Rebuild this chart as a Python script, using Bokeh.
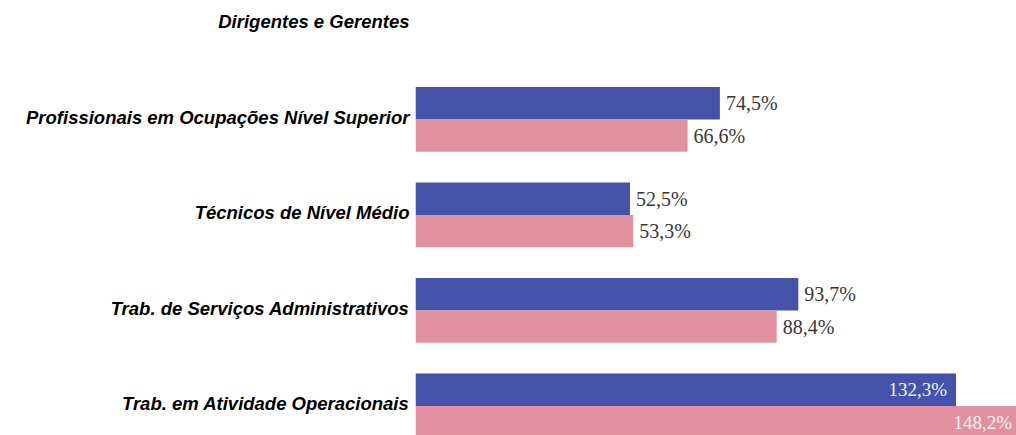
from bokeh.plotting import figure
from bokeh.models import ColumnDataSource, Range1d, FixedTicker
from bokeh.core.properties import value
from bokeh.embed import file_html
from bokeh.resources import INLINE

categories = [
    "Dirigentes e Gerentes",
    "Profissionais em Ocupações Nível Superior",
    "Técnicos de Nível Médio",
    "Trab. de Serviços Administrativos",
    "Trab. em Atividade Operacionais",
]
serie_a = [None, 74.5, 52.5, 93.7, 132.3]   # blue
serie_b = [None, 66.6, 53.3, 88.4, 148.2]   # pink

BLUE = "#4453A9"
PINK = "#E1919F"
BAR_H = 0.34
SHIFT = 0.025

def fmt(v):
    return f"{v:.1f}".replace(".", ",") + "%"

def build(vals, offset):
    ys, xs, labs, inside = [], [], [], []
    for i, v in enumerate(vals):
        if v is None:
            continue
        ys.append(i + SHIFT + offset)
        xs.append(v)
        labs.append(fmt(v))
        inside.append(v > 120)
    return ys, xs, labs, inside

p = figure(width=1016, height=435, output_backend="svg", toolbar_location=None,
           x_range=Range1d(0, 147.1), y_range=Range1d(4.335, -0.22),
           min_border_left=415, min_border_right=0, min_border_top=0, min_border_bottom=0)

for vals, color, off in [(serie_a, BLUE, -BAR_H / 2), (serie_b, PINK, BAR_H / 2)]:
    ys, xs, labs, inside = build(vals, off)
    src = ColumnDataSource(dict(y=ys, right=xs))
    p.hbar(y="y", left=0, right="right", height=BAR_H, source=src,
           fill_color=color, line_color=None)
    out = ColumnDataSource(dict(
        y=[y for y, k in zip(ys, inside) if not k],
        x=[x for x, k in zip(xs, inside) if not k],
        t=[t for t, k in zip(labs, inside) if not k]))
    p.text(x="x", y="y", text="t", source=out, x_offset=6,
           text_align="left", text_baseline="middle",
           text_font=value("Liberation Serif"), text_font_size="20px",
           text_color="#383838")
    ins = ColumnDataSource(dict(
        y=[y for y, k in zip(ys, inside) if k],
        x=[x for x, k in zip(xs, inside) if k],
        t=[t for t, k in zip(labs, inside) if k]))
    p.text(x="x", y="y", text="t", source=ins, x_offset=-9,
           text_align="right", text_baseline="middle",
           text_font=value("Liberation Serif"), text_font_size="19px",
           text_color="#F2F2F6")

p.yaxis.ticker = FixedTicker(ticks=list(range(len(categories))))
p.yaxis.major_label_overrides = {i: c for i, c in enumerate(categories)}
p.yaxis.major_label_text_font = "Liberation Sans"
p.yaxis.major_label_text_font_style = "bold italic"
p.yaxis.major_label_text_font_size = "18.5px"
p.yaxis.major_label_text_color = "#000000"
p.yaxis.axis_line_color = None
p.yaxis.major_tick_line_color = None
p.yaxis.minor_tick_line_color = None
p.yaxis.major_tick_in = 0
p.yaxis.major_tick_out = 0
p.yaxis.major_label_standoff = 6
p.xaxis.visible = False
p.xgrid.visible = False
p.ygrid.visible = False
p.outline_line_color = None

open("out.html", "w").write(file_html(p, INLINE))
